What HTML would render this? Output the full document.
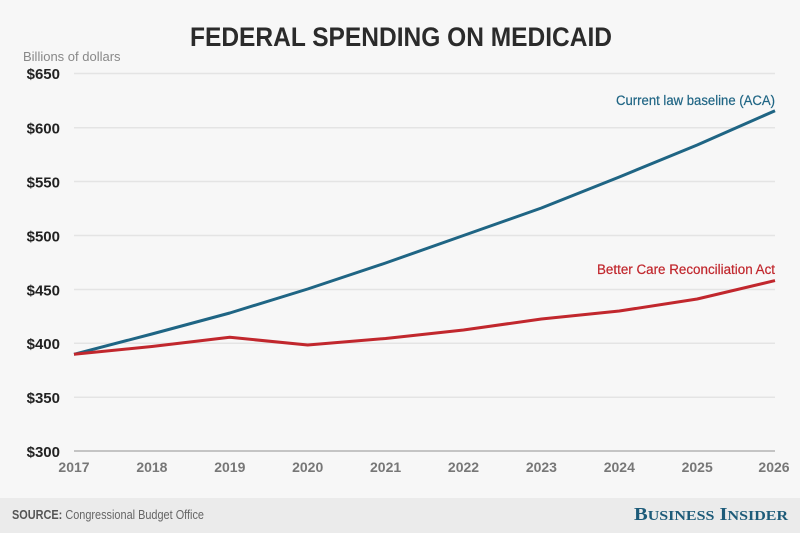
<!DOCTYPE html>
<html><head><meta charset="utf-8"><style>
html,body{margin:0;padding:0;background:#f7f7f7;}
svg{display:block;}
</style></head><body>
<svg width="800" height="533" viewBox="0 0 800 533" xmlns="http://www.w3.org/2000/svg" font-family="'Liberation Sans', sans-serif">
<rect x="0" y="0" width="800" height="533" fill="#f7f7f7"/>
<rect x="0" y="498" width="800" height="35" fill="#ebebeb"/>
<text x="190" y="46" font-size="27" font-weight="bold" fill="#2b2b2b" textLength="422" lengthAdjust="spacingAndGlyphs">FEDERAL SPENDING ON MEDICAID</text>
<text x="23" y="61" font-size="13" fill="#888">Billions of dollars</text>
<g stroke="#e4e4e4" stroke-width="1.5">
<line x1="74" x2="775" y1="73.5" y2="73.5"/>
<line x1="74" x2="775" y1="127.7" y2="127.7"/>
<line x1="74" x2="775" y1="181.5" y2="181.5"/>
<line x1="74" x2="775" y1="235.5" y2="235.5"/>
<line x1="74" x2="775" y1="289.5" y2="289.5"/>
<line x1="74" x2="775" y1="343.3" y2="343.3"/>
<line x1="74" x2="775" y1="397.2" y2="397.2"/>
</g>
<line x1="74" x2="775" y1="451" y2="451" stroke="#c4c4c4" stroke-width="2"/>
<g font-size="15" font-weight="bold" fill="#222" text-anchor="end">
<text x="60" y="79">$650</text>
<text x="60" y="133.5">$600</text>
<text x="60" y="187.3">$550</text>
<text x="60" y="241.3">$500</text>
<text x="60" y="295.3">$450</text>
<text x="60" y="349.1">$400</text>
<text x="60" y="403">$350</text>
<text x="60" y="456.8">$300</text>
</g>
<g font-size="14" font-weight="bold" fill="#777" text-anchor="middle">
<text x="74" y="472">2017</text>
<text x="151.9" y="472">2018</text>
<text x="229.8" y="472">2019</text>
<text x="307.7" y="472">2020</text>
<text x="385.6" y="472">2021</text>
<text x="463.5" y="472">2022</text>
<text x="541.4" y="472">2023</text>
<text x="619.3" y="472">2024</text>
<text x="697.2" y="472">2025</text>
<text x="774" y="472">2026</text>
</g>
<polyline fill="none" stroke="#1f6584" stroke-width="3" stroke-linejoin="round" points="74,354.3 151.9,334 229.8,313 307.7,289 385.6,263 463.5,235.5 541.4,208 619.3,177 697.2,145 775,110.7"/>
<polyline fill="none" stroke="#c1272d" stroke-width="3" stroke-linejoin="round" points="74,354.3 151.9,346.5 229.8,337.3 307.7,345 385.6,338.5 463.5,330 541.4,319 619.3,311 697.2,299 775,280.6"/>
<text x="616" y="105" font-size="13.5" fill="#1f6584" stroke="#1f6584" stroke-width="0.2" textLength="159" lengthAdjust="spacingAndGlyphs">Current law baseline (ACA)</text>
<text x="597" y="274" font-size="13.5" fill="#c1272d" stroke="#c1272d" stroke-width="0.2" textLength="178" lengthAdjust="spacingAndGlyphs">Better Care Reconciliation Act</text>
<text x="12" y="519" font-size="12.5" fill="#666" textLength="192" lengthAdjust="spacingAndGlyphs"><tspan font-weight="bold" fill="#555">SOURCE:</tspan> Congressional Budget Office</text>
<text x="634" y="520" font-family="'Liberation Serif', serif" font-size="18" font-weight="bold" fill="#1d5b79" textLength="154" lengthAdjust="spacingAndGlyphs">B<tspan font-size="14">USINESS</tspan> I<tspan font-size="14">NSIDER</tspan></text>
</svg>
</body></html>
